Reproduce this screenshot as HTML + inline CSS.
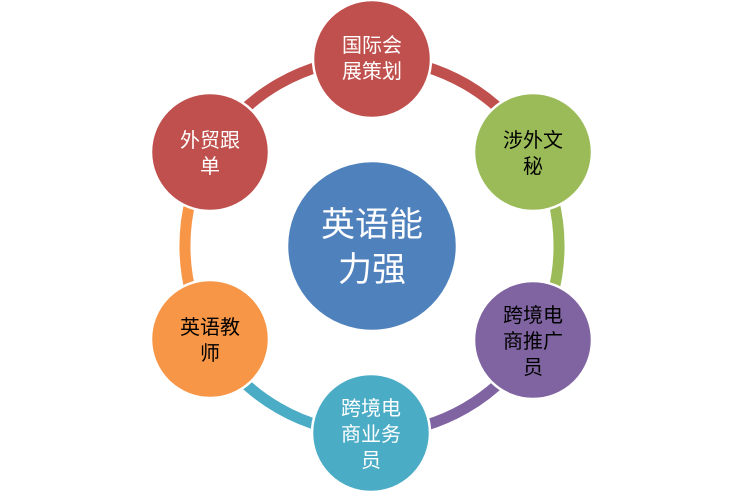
<!DOCTYPE html>
<html><head><meta charset="utf-8"><style>
html,body{margin:0;padding:0;background:#fff;}
svg text{font-family:"Liberation Sans","Noto Sans CJK SC",sans-serif;text-anchor:middle;}
</style></head><body>
<svg width="743" height="493" viewBox="0 0 743 493">
<g fill="none" stroke-width="11">
<path d="M372 59 A187 187 0 0 1 534 152.5" stroke="#c0504d"/>
<path d="M534 152.5 A187 187 0 0 1 534 339.5" stroke="#9bbb59"/>
<path d="M534 339.5 A187 187 0 0 1 372 433" stroke="#8064a2"/>
<path d="M372 433 A187 187 0 0 1 210 339.5" stroke="#4bacc6"/>
<path d="M210 339.5 A187 187 0 0 1 210 152.5" stroke="#f79646"/>
<path d="M210 152.5 A187 187 0 0 1 372 59" stroke="#c0504d"/>
</g>
<g stroke="#fff" stroke-width="2.5">
<circle cx="372" cy="246" r="85" fill="#4f81bd"/>
<circle cx="372" cy="59" r="59" fill="#c0504d"/>
<circle cx="533" cy="152" r="59" fill="#9bbb59"/>
<circle cx="533" cy="340" r="59" fill="#8064a2"/>
<circle cx="371" cy="433" r="59" fill="#4bacc6"/>
<circle cx="210" cy="339" r="59" fill="#f79646"/>
<circle cx="210" cy="152" r="59" fill="#c0504d"/>
</g>
<g font-size="20">
<text x="372" y="52" fill="#fff">国际会</text><text x="372" y="78" fill="#fff">展策划</text>
<text x="533" y="147" fill="#000">涉外文</text><text x="533" y="173" fill="#000">秘</text>
<text x="533" y="322" fill="#000">跨境电</text><text x="533" y="348" fill="#000">商推广</text><text x="533" y="374" fill="#000">员</text>
<text x="371" y="415" fill="#fff">跨境电</text><text x="371" y="441" fill="#fff">商业务</text><text x="371" y="467" fill="#fff">员</text>
<text x="210" y="334" fill="#000">英语教</text><text x="210" y="360" fill="#000">师</text>
<text x="210" y="147" fill="#fff">外贸跟</text><text x="210" y="173" fill="#fff">单</text>
</g>
<g font-size="34" fill="#fff">
<text x="372" y="236">英语能</text><text x="372" y="281">力强</text>
</g>
</svg>
</body></html>
